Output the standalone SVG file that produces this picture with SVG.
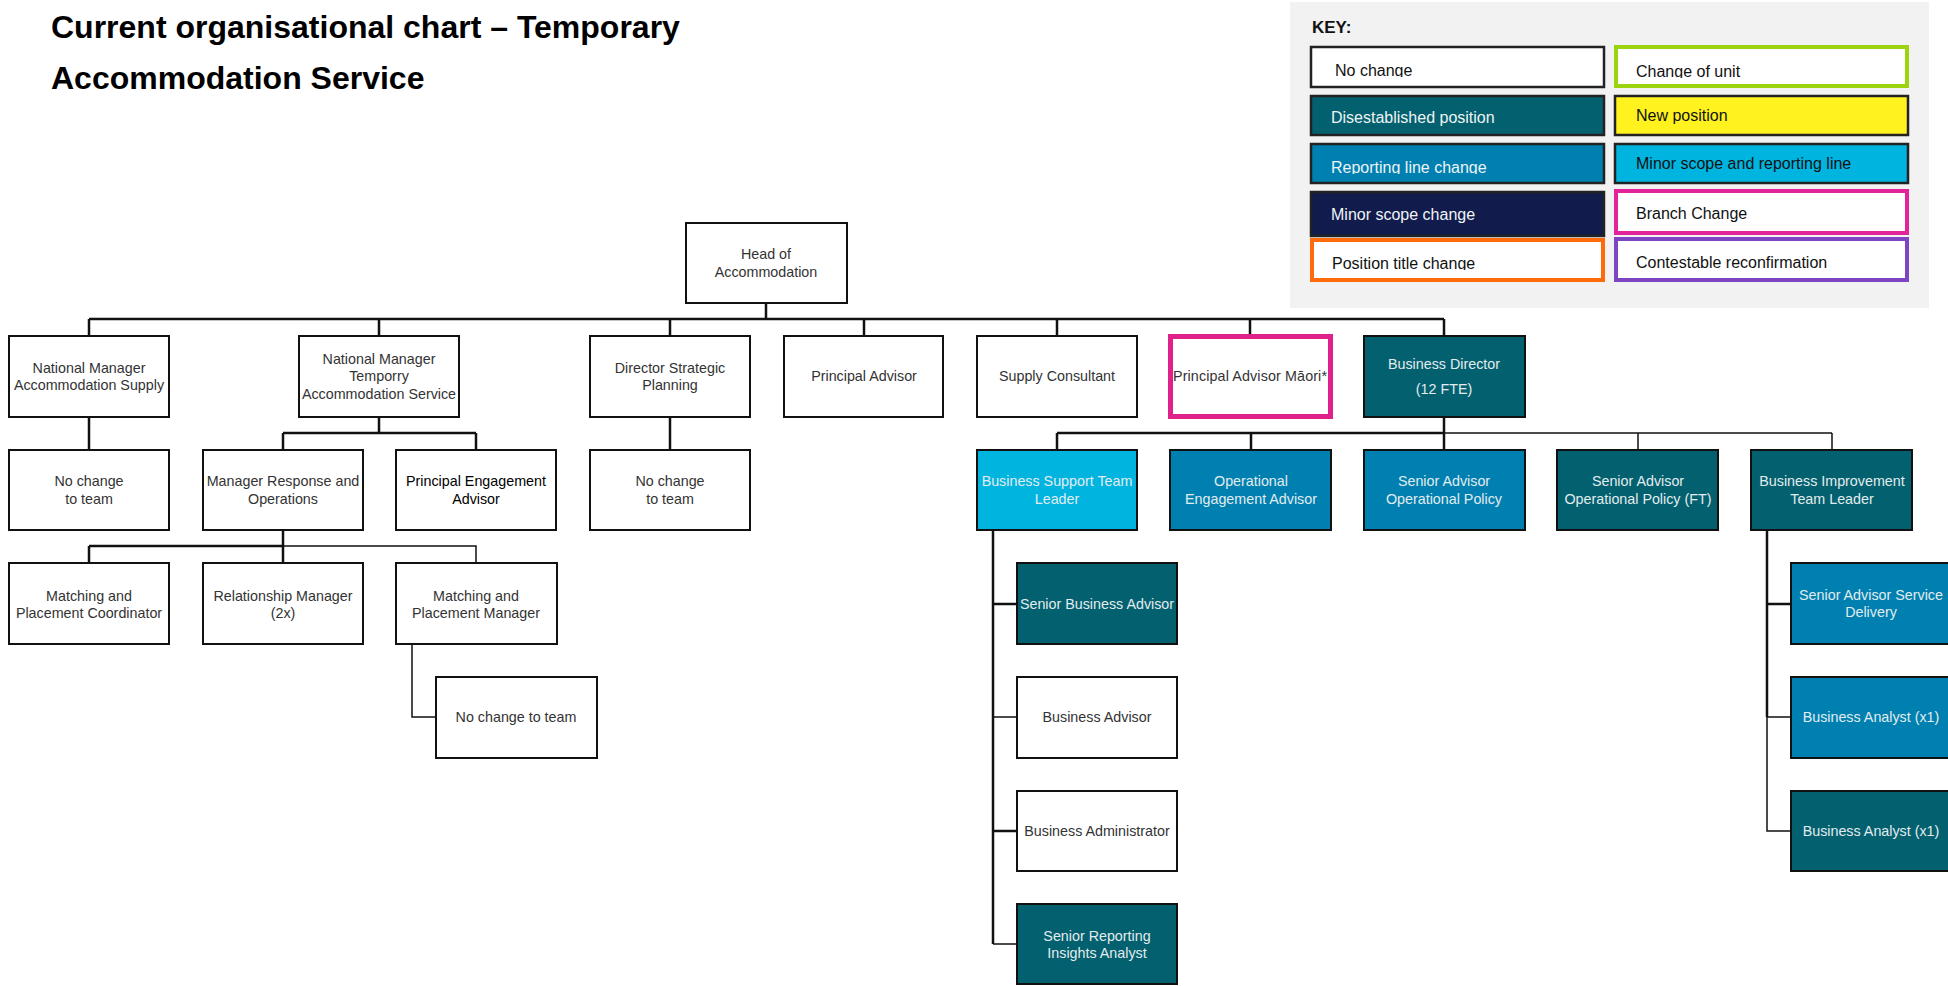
<svg xmlns="http://www.w3.org/2000/svg" width="1948" height="986" viewBox="0 0 1948 986">
  <style>
    .bx{stroke:#111;stroke-width:2}
    .w{fill:#fff}
    .teal{fill:#03606e}
    .rep{fill:#0080b0}
    .cyan{fill:#00b4e0}
    .navy{fill:#121c4c}
    .yel{fill:#fff21f}
    .t{font-family:"Liberation Sans",Arial,sans-serif;font-size:14.3px;fill:#333;text-anchor:middle}
    .lt{fill:#e2ecef}
    .k{font-family:"Liberation Sans",Arial,sans-serif;font-size:16px;fill:#111}
    .kl{fill:#eef4f6}
    .ln{fill:none;stroke:#111;stroke-width:2.5}
    .thin{stroke-width:1.5}
  </style>
  <defs>
    <clipPath id="cNo"><rect x="1312" y="48" width="290" height="29"/></clipPath>
    <clipPath id="cUnit"><rect x="1618" y="48" width="288" height="30"/></clipPath>
    <clipPath id="cRep"><rect x="1312" y="145" width="290" height="29"/></clipPath>
    <clipPath id="cTitle"><rect x="1314" y="242" width="288" height="28"/></clipPath>
  </defs>

  <rect width="1948" height="986" fill="#fff"/>

  <!-- heading -->
  <g id="title" font-family="'Liberation Sans',Arial,sans-serif" font-weight="bold" font-size="32" fill="#000">
    <text x="51" y="38">Current organisational chart – Temporary</text>
    <text x="51" y="89">Accommodation Service</text>
  </g>

  <!-- legend -->
  <g id="key">
    <rect x="1290" y="2" width="639" height="306" fill="#f2f2f2"/>
    <text x="1312" y="33" font-family="'Liberation Sans',Arial,sans-serif" font-weight="bold" font-size="17" fill="#111">KEY:</text>
    <rect x="1311" y="47" width="293" height="40" fill="#fff" stroke="#222" stroke-width="2.5"/>
    <rect x="1616" y="47" width="291" height="39" fill="#fff" stroke="#9bd30f" stroke-width="4"/>
    <rect x="1311" y="96" width="293" height="39" class="teal" stroke="#222" stroke-width="2.5"/>
    <rect x="1615" y="96" width="293" height="39" class="yel" stroke="#222" stroke-width="2.5"/>
    <rect x="1311" y="144" width="293" height="39" class="rep" stroke="#222" stroke-width="2.5"/>
    <rect x="1615" y="144" width="293" height="39" class="cyan" stroke="#222" stroke-width="2.5"/>
    <rect x="1311" y="192" width="293" height="44" class="navy" stroke="#222" stroke-width="2.5"/>
    <rect x="1616" y="191" width="291" height="42" fill="#fff" stroke="#e3239a" stroke-width="4"/>
    <rect x="1312" y="240" width="291" height="40" fill="#fff" stroke="#ff6a0a" stroke-width="4"/>
    <rect x="1616" y="239" width="291" height="41" fill="#fff" stroke="#7e45c2" stroke-width="4"/>
    <text class="k" x="1335" y="76" clip-path="url(#cNo)">No change</text>
    <text class="k" x="1636" y="77" clip-path="url(#cUnit)">Change of unit</text>
    <text class="k kl" x="1331" y="123">Disestablished position</text>
    <text class="k" x="1636" y="121">New position</text>
    <text class="k kl" x="1331" y="173" clip-path="url(#cRep)">Reporting line change</text>
    <text class="k" x="1636" y="169">Minor scope and reporting line</text>
    <text class="k kl" x="1331" y="220">Minor scope change</text>
    <text class="k" x="1636" y="219">Branch Change</text>
    <text class="k" x="1332" y="269" clip-path="url(#cTitle)">Position title change</text>
    <text class="k" x="1636" y="268">Contestable reconfirmation</text>
  </g>

  <!-- reporting lines -->
  <g id="connectors">
    <path class="ln" d="M766 303V319"/>
    <path class="ln" stroke-width="3" d="M89 319H1444"/>
    <path class="ln" d="M89 319V336M379 319V336M670 319V336M864 319V336M1057 319V336M1250 319V336M1444 319V336"/>
    <path class="ln" d="M89 417V450"/>
    <path class="ln" d="M379 417V433M283 433H476M283 433V450M476 433V450"/>
    <path class="ln" d="M670 417V450"/>
    <path class="ln" d="M283 530V546M89 546H283M89 546V563M283 546V563"/>
    <path class="ln thin" d="M283 546H476V563"/>
    <path class="ln thin" d="M412 644V717H436"/>
    <path class="ln" d="M1444 417V433"/>
    <path class="ln" d="M1057 433H1444M1057 433V450M1251 433V450M1444 433V450"/>
    <path class="ln thin" d="M1444 433H1832M1638 433V450M1832 433V450"/>
    <path class="ln" d="M993 530V944M993 604H1017M993 831H1017"/>
    <path class="ln thin" d="M993 717H1017M993 944H1017"/>
    <path class="ln" d="M1767 530V717M1767 604H1791"/>
    <path class="ln thin" d="M1767 717V831H1791M1767 717H1791"/>
  </g>

  <!-- top -->
  <g id="head"><rect class="bx w" x="686" y="223" width="161" height="80"/>
    <text class="t" x="766" y="259">Head of</text><text class="t" x="766" y="277">Accommodation</text></g>

  <!-- first tier -->
  <g id="nm-supply"><rect class="bx w" x="9" y="336" width="160" height="81"/>
    <text class="t" x="89" y="373">National Manager</text><text class="t" x="89" y="390">Accommodation Supply</text></g>
  <g id="nm-temporary"><rect class="bx w" x="299" y="336" width="160" height="81"/>
    <text class="t" x="379" y="364">National Manager</text><text class="t" x="379" y="381">Temporry</text><text class="t" x="379" y="399">Accommodation Service</text></g>
  <g id="director-strategic"><rect class="bx w" x="590" y="336" width="160" height="81"/>
    <text class="t" x="670" y="373">Director Strategic</text><text class="t" x="670" y="390">Planning</text></g>
  <g id="principal-advisor"><rect class="bx w" x="784" y="336" width="159" height="81"/>
    <text class="t" x="864" y="381">Principal Advisor</text></g>
  <g id="supply-consultant"><rect class="bx w" x="977" y="336" width="160" height="81"/>
    <text class="t" x="1057" y="381">Supply Consultant</text></g>
  <g id="principal-advisor-maori"><rect x="1170.5" y="336.5" width="160" height="80" fill="#fff" stroke="#e0218a" stroke-width="5"/>
    <text class="t" x="1250" y="381" textLength="154">Principal Advisor Māori*</text></g>
  <g id="business-director"><rect class="bx teal" x="1364" y="336" width="161" height="81"/>
    <text class="t lt" x="1444" y="369">Business Director</text><text class="t lt" x="1444" y="394">(12 FTE)</text></g>

  <!-- second tier -->
  <g id="no-change-supply"><rect class="bx w" x="9" y="450" width="160" height="80"/>
    <text class="t" x="89" y="486">No change</text><text class="t" x="89" y="504">to team</text></g>
  <g id="manager-response"><rect class="bx w" x="203" y="450" width="160" height="80"/>
    <text class="t" x="283" y="486">Manager Response and</text><text class="t" x="283" y="504">Operations</text></g>
  <g id="principal-engagement"><rect class="bx w" x="396" y="450" width="160" height="80"/>
    <text class="t" x="476" y="486" style="fill:#000">Principal Engagement</text><text class="t" x="476" y="504" style="fill:#000">Advisor</text></g>
  <g id="no-change-strategic"><rect class="bx w" x="590" y="450" width="160" height="80"/>
    <text class="t" x="670" y="486">No change</text><text class="t" x="670" y="504">to team</text></g>
  <g id="business-support-tl"><rect class="bx cyan" x="977" y="450" width="160" height="80"/>
    <text class="t lt" x="1057" y="486">Business Support Team</text><text class="t lt" x="1057" y="504">Leader</text></g>
  <g id="operational-engagement"><rect class="bx rep" x="1170" y="450" width="161" height="80"/>
    <text class="t lt" x="1251" y="486">Operational</text><text class="t lt" x="1251" y="504">Engagement Advisor</text></g>
  <g id="senior-advisor-policy"><rect class="bx rep" x="1364" y="450" width="161" height="80"/>
    <text class="t lt" x="1444" y="486">Senior Advisor</text><text class="t lt" x="1444" y="504">Operational Policy</text></g>
  <g id="senior-advisor-policy-ft"><rect class="bx teal" x="1557" y="450" width="161" height="80"/>
    <text class="t lt" x="1638" y="486">Senior Advisor</text><text class="t lt" x="1638" y="504">Operational Policy (FT)</text></g>
  <g id="business-improvement-tl"><rect class="bx teal" x="1751" y="450" width="161" height="80"/>
    <text class="t lt" x="1832" y="486">Business Improvement</text><text class="t lt" x="1832" y="504">Team Leader</text></g>

  <!-- third tier and below -->
  <g id="matching-coordinator"><rect class="bx w" x="9" y="563" width="160" height="81"/>
    <text class="t" x="89" y="601">Matching and</text><text class="t" x="89" y="618">Placement Coordinator</text></g>
  <g id="relationship-manager"><rect class="bx w" x="203" y="563" width="160" height="81"/>
    <text class="t" x="283" y="601">Relationship Manager</text><text class="t" x="283" y="618">(2x)</text></g>
  <g id="matching-manager"><rect class="bx w" x="396" y="563" width="161" height="81"/>
    <text class="t" x="476" y="601">Matching and</text><text class="t" x="476" y="618">Placement Manager</text></g>
  <g id="no-change-matching"><rect class="bx w" x="436" y="677" width="161" height="81"/>
    <text class="t" x="516" y="722">No change to team</text></g>

  <g id="senior-business-advisor"><rect class="bx teal" x="1017" y="563" width="160" height="81"/>
    <text class="t lt" x="1097" y="609">Senior Business Advisor</text></g>
  <g id="business-advisor"><rect class="bx w" x="1017" y="677" width="160" height="81"/>
    <text class="t" x="1097" y="722">Business Advisor</text></g>
  <g id="business-administrator"><rect class="bx w" x="1017" y="791" width="160" height="80"/>
    <text class="t" x="1097" y="836">Business Administrator</text></g>
  <g id="senior-reporting-analyst"><rect class="bx teal" x="1017" y="904" width="160" height="80"/>
    <text class="t lt" x="1097" y="941">Senior Reporting</text><text class="t lt" x="1097" y="958">Insights Analyst</text></g>

  <g id="senior-advisor-service"><rect class="bx rep" x="1791" y="563" width="162" height="81"/>
    <text class="t lt" x="1871" y="600">Senior Advisor Service</text><text class="t lt" x="1871" y="617">Delivery</text></g>
  <g id="business-analyst-a"><rect class="bx rep" x="1791" y="677" width="162" height="81"/>
    <text class="t lt" x="1871" y="722">Business Analyst (x1)</text></g>
  <g id="business-analyst-b"><rect class="bx teal" x="1791" y="791" width="162" height="80"/>
    <text class="t lt" x="1871" y="836">Business Analyst (x1)</text></g>
</svg>
